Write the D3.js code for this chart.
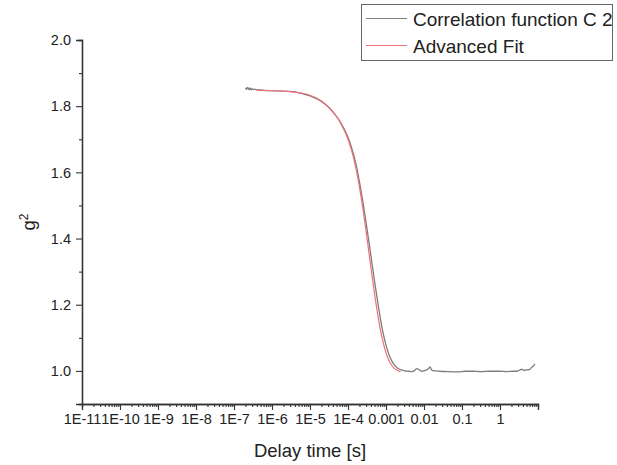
<!DOCTYPE html>
<html><head><meta charset="utf-8">
<script src="https://cdn.jsdelivr.net/npm/d3@7"></script>
<style>
body{margin:0;background:#fff}
svg{display:block}
text{font-family:"Liberation Sans",Arial,sans-serif;fill:#222}
</style>
</head><body>
<svg id="chart" width="617" height="465"></svg>
<script>
// ---- data (delay time as log10 of seconds, g2 values) ----
const xTickValues = [1e-11,1e-10,1e-9,1e-8,1e-7,1e-6,1e-5,1e-4,1e-3,1e-2,1e-1,1];
const xTickLabels = ["1E-11","1E-10","1E-9","1E-8","1E-7","1E-6","1E-5","1E-4","0.001","0.01","0.1","1"];
const yTickValues = [1.0,1.2,1.4,1.6,1.8,2.0];
const yTickLabels = ["1.0","1.2","1.4","1.6","1.8","2.0"];
const yMinorValues = [1.1,1.3,1.5,1.7,1.9];

const seriesNames = ["Correlation function C 2","Advanced Fit"];

const corrLogTime = [-6.70,-6.67,-6.64,-6.61,-6.58,-6.55,-6.52,-6.48,-6.44,-6.38,-6.30,-6.20,-6.00,-5.80,-5.60,-5.40,-5.20,-5.00,-4.80,-4.60,-4.40,-4.20,-4.00,-3.90,-3.80,-3.70,-3.60,-3.50,-3.40,-3.30,-3.20,-3.10,-3.00,-2.90,-2.80,-2.70,-2.60,-2.50,-2.40,-2.32,-2.25,-2.19,-2.12,-2.06,-1.98,-1.93,-1.88,-1.84,-1.80,-1.76,-1.68,-1.58,-1.40,-1.14,-0.90,-0.71,-0.50,-0.26,0.00,0.18,0.35,0.44,0.51,0.57,0.63,0.70,0.77,0.83,0.88,0.92];
const corrG2 =      [1.856,1.851,1.857,1.850,1.855,1.849,1.853,1.850,1.851,1.849,1.849,1.848,1.847,1.846,1.845,1.843,1.838,1.831,1.821,1.806,1.783,1.752,1.706,1.672,1.630,1.572,1.505,1.430,1.350,1.270,1.195,1.128,1.078,1.043,1.021,1.009,1.003,1.000,0.999,0.998,1.001,1.007,1.003,0.999,1.001,1.003,1.007,1.012,1.003,1.001,1.000,0.999,0.998,0.997,0.999,0.999,0.998,0.999,0.999,0.998,0.999,0.999,1.002,1.005,1.002,1.003,1.004,1.010,1.015,1.021];

const fitLogTime = [-6.40,-6.00,-5.60,-5.20,-5.00,-4.80,-4.60,-4.40,-4.20,-4.00,-3.90,-3.80,-3.70,-3.60,-3.50,-3.40,-3.30,-3.20,-3.10,-3.00,-2.90,-2.80,-2.70,-2.62];
const fitG2 =      [1.848,1.847,1.845,1.839,1.833,1.823,1.807,1.784,1.750,1.700,1.664,1.617,1.556,1.484,1.402,1.315,1.232,1.158,1.098,1.055,1.026,1.010,1.002,0.997];

// ---- layout ----
const svg = d3.select("#chart");
const x = d3.scaleLog().domain([1e-11, 10]).range([82, 538]);
const y = d3.scaleLinear().domain([0.9, 2.0]).range([404, 40]);
const axisColor = "#333";

// minor x ticks
const xMinor = [];
for (let e = -11; e <= 0; e++) for (let m = 2; m <= 9; m++) xMinor.push(m * Math.pow(10, e));

const gx = svg.append("g").attr("transform", "translate(0,404)");
gx.call(d3.axisBottom(x).tickValues(xMinor).tickSize(3).tickFormat(""));
gx.append("g").call(d3.axisBottom(x).tickValues(xTickValues).tickSize(6)
  .tickFormat((d, i) => xTickLabels[i]).tickPadding(4));
gx.selectAll("path").attr("stroke", axisColor).attr("stroke-width", 1.3);
gx.selectAll("line").attr("stroke", axisColor).attr("stroke-width", 1.1);
gx.selectAll("text").style("font-size", "14.5px").attr("fill", "#222");

const gy = svg.append("g").attr("transform", "translate(82,0)");
gy.call(d3.axisLeft(y).tickValues(yMinorValues).tickSize(3).tickFormat(""));
gy.append("g").call(d3.axisLeft(y).tickValues(yTickValues).tickSize(6)
  .tickFormat((d, i) => yTickLabels[i]).tickPadding(5));
gy.selectAll("path").attr("stroke", axisColor).attr("stroke-width", 1.3);
gy.selectAll("line").attr("stroke", axisColor).attr("stroke-width", 1.1);
gy.selectAll("text").style("font-size", "14.5px").attr("fill", "#222");

// axis titles
svg.append("text").attr("x", 310).attr("y", 457).attr("text-anchor", "middle")
  .style("font-size", "18.5px").text("Delay time [s]");
const yt = svg.append("text").attr("transform", "translate(35,222) rotate(-90)")
  .attr("text-anchor", "middle").style("font-size", "18.5px");
yt.append("tspan").text("g");
yt.append("tspan").attr("dy", -7).style("font-size", "12px").text("2");

// series
const line = d3.line().x(d => x(Math.pow(10, d[0]))).y(d => y(d[1])).curve(d3.curveMonotoneX);
const corrData = corrLogTime.map((t, i) => [t, corrG2[i]]);
const fitData = fitLogTime.map((t, i) => [t, fitG2[i]]);
const colors = ["#7d7d7d", "#ef6f7c"];

svg.append("path").datum(corrData).attr("d", line).attr("fill", "none")
  .attr("stroke", colors[0]).attr("stroke-width", 1.3);
svg.append("path").datum(fitData).attr("d", line).attr("fill", "none")
  .attr("stroke", colors[1]).attr("stroke-width", 1.2);

// legend
const lg = svg.append("g");
lg.append("rect").attr("x", 361.5).attr("y", 4.5).attr("width", 251).attr("height", 56)
  .attr("fill", "#fff").attr("stroke", "#666").attr("stroke-width", 1);
seriesNames.forEach((name, i) => {
  const cy = 18.5 + i * 27;
  lg.append("line").attr("x1", 366).attr("x2", 407).attr("y1", cy).attr("y2", cy)
    .attr("stroke", colors[i]).attr("stroke-width", 1);
  lg.append("text").attr("x", 413).attr("y", cy + 7).style("font-size", "19px").text(name);
});
</script>
</body></html>
